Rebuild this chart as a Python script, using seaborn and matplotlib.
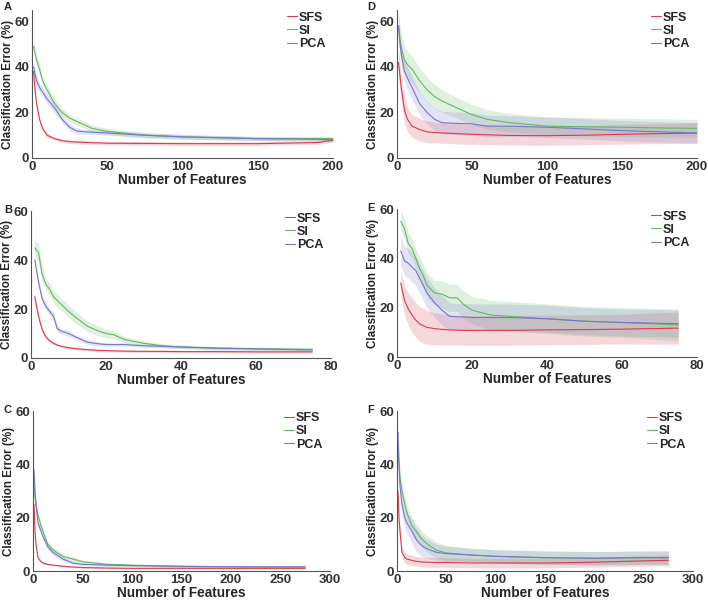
import pandas as pd
import matplotlib.pyplot as plt
from matplotlib.lines import Line2D
import seaborn as sns

# methods and colours
methods = ["SFS", "SI", "PCA"]
colors = {"SFS": "#d83c4a", "SI": "#62b862", "PCA": "#7676cc"}

# Panel A
a_x = [1, 2, 3, 5, 7, 10, 15, 20, 25, 30, 40, 50, 75, 100, 150, 190, 200]
a_sfs = [38, 30, 24, 17, 13, 10, 8.5, 7.6, 7.2, 7, 6.7, 6.5, 6.4, 6.3, 6.3, 6.8, 7.8]
a_sfs_sd = [1.5, 1.5, 1.3, 1.2, 1, 1, 0.8, 0.8, 0.8, 0.8, 0.8, 0.8, 0.8, 0.8, 0.8, 0.8, 0.8]
a_si = [49, 46, 43, 39, 34, 30, 24, 20, 17.5, 16, 13, 11.7, 10, 9.3, 8.5, 8.5, 8.5]
a_si_sd = [3, 3, 2.5, 2.5, 2, 2, 2, 1.8, 1.6, 1.5, 1.5, 1.3, 1.2, 1, 1, 1, 1]
a_pca = [40, 37, 34, 31, 29, 26, 22, 17, 13.5, 11.8, 11.3, 11, 10, 9.3, 8.5, 8.2, 8]
a_pca_sd = [3, 3, 2.5, 2, 2, 2, 2, 1.5, 1.5, 1.2, 1, 1, 1, 1, 0.8, 0.8, 0.8]

# Panel B
b_x = [1, 2, 3, 4, 5, 6, 7, 8, 10, 12, 15, 18, 20, 22, 25, 30, 35, 40, 50, 60, 75]
b_sfs = [25, 17, 11.5, 8.5, 7, 6, 5.3, 4.8, 4.2, 3.8, 3.4, 3.1, 3, 2.9, 2.8, 2.7, 2.7, 2.6, 2.6, 2.5, 2.5]
b_sfs_sd = [1.5, 1.2, 1, 0.8, 0.7, 0.6, 0.6, 0.5, 0.5, 0.5, 0.5, 0.5, 0.5, 0.5, 0.5, 0.5, 0.5, 0.5, 0.5, 0.5, 0.5]
b_si = [45, 43, 34, 30, 28, 25, 23.5, 22, 19, 16.5, 13, 11, 10, 9.5, 7.5, 6, 5, 4.5, 4, 3.8, 3.5]
b_si_sd = [3, 4, 3, 2.5, 2.5, 2.5, 2.5, 2.5, 2.5, 2.5, 2.2, 2, 1.8, 1.5, 1.3, 1, 0.8, 0.8, 0.7, 0.7, 0.7]
b_pca = [40, 31, 24, 21, 19, 17, 12, 11, 10, 8.5, 6.5, 5.8, 5.5, 5.5, 5.5, 5, 4.8, 4.5, 4, 3.7, 3.3]
b_pca_sd = [1.5, 1.5, 1.5, 1.5, 1.5, 1.5, 1.3, 1.2, 1.2, 1, 1, 0.8, 0.8, 0.7, 0.7, 0.6, 0.6, 0.5, 0.5, 0.5, 0.5]

# Panel C
c_x = [1, 2, 3, 5, 8, 10, 15, 20, 30, 40, 50, 75, 100, 150, 200, 250, 275]
c_sfs = [25, 15, 10, 5, 3.5, 3, 2.5, 2.2, 1.8, 1.5, 1.3, 1.1, 1, 1, 1, 1, 1]
c_sfs_sd = [0.6, 0.5, 0.5, 0.4, 0.4, 0.4, 0.4, 0.3, 0.3, 0.3, 0.3, 0.3, 0.3, 0.3, 0.3, 0.3, 0.3]
c_si = [33, 28, 25, 21, 17, 15, 10, 8, 5.5, 4.5, 3.5, 2.5, 2.2, 1.8, 1.6, 1.5, 1.5]
c_si_sd = [1.5, 1.5, 1.3, 1.2, 1.2, 1.2, 1, 1, 0.8, 0.8, 0.6, 0.5, 0.4, 0.4, 0.4, 0.4, 0.4]
c_pca = [38, 30, 25, 18, 15, 13, 9, 7, 4.5, 3, 2.5, 2.2, 2, 1.7, 1.6, 1.5, 1.5]
c_pca_sd = [1.5, 1.5, 1.3, 1.2, 1.2, 1.2, 1, 1, 0.8, 0.6, 0.5, 0.5, 0.4, 0.4, 0.4, 0.4, 0.4]

# Panel D
d_x = [1, 2, 3, 5, 7, 10, 15, 20, 25, 30, 40, 50, 60, 75, 100, 125, 150, 175, 200]
d_sfs = [42, 36, 30, 21, 17, 14, 12.5, 11.5, 11.2, 11, 10.7, 10.4, 10.2, 9.9, 9.8, 10, 10.4, 10.7, 11]
d_sfs_sd = [6, 6, 6, 6, 5.5, 5, 5, 4.8, 4.6, 4.5, 4.5, 4.4, 4.3, 4.2, 4.2, 4.2, 4.3, 4.4, 4.5]
d_si = [58, 52, 48, 43, 41, 39, 34, 30, 27, 25, 22, 19, 17, 15.5, 14, 13.7, 13.5, 13.2, 13]
d_si_sd = [6, 6, 6, 6, 6, 6, 5.5, 5.5, 5.2, 5, 4.5, 4.5, 4.2, 4, 4, 4, 4, 4, 4]
d_pca = [58, 50, 45, 38, 35, 31, 24, 20, 17, 15.5, 15.2, 15, 14, 14, 13.5, 12.8, 12, 11.5, 11]
d_pca_sd = [5, 5, 5, 5, 5, 5, 5, 5, 5, 5, 5, 5, 4.8, 4.6, 4.5, 4.5, 4.5, 4.5, 4.5]

# Panel E
e_x = [1, 2, 3, 4, 5, 6, 7, 8, 10, 12, 14, 16, 18, 20, 25, 30, 40, 50, 60, 75]
e_sfs = [30, 23, 19.5, 17, 15, 13.5, 12.7, 12, 11.5, 11.2, 11, 10.9, 10.8, 10.8, 10.8, 10.8, 11, 11.1, 11.3, 11.7]
e_sfs_sd = [5, 6, 6.5, 7, 7, 7, 7, 6.8, 6.5, 6.3, 6.2, 6, 6, 6, 6, 6, 6, 6, 6, 6.5]
e_si = [55, 52, 46, 44, 40, 36, 33, 29, 26, 25.5, 24, 24, 21, 19, 17, 16.5, 15.5, 14.5, 14, 13]
e_si_sd = [4, 4, 4, 4, 4, 4.5, 5, 5, 5, 5.5, 5.5, 5.5, 5.5, 5.5, 6, 6, 6, 6, 6, 6.5]
e_pca = [43, 39, 38, 36.5, 35, 32, 29, 26, 22, 19, 16.5, 16.3, 16.2, 16, 16, 16, 15.5, 14.5, 14, 13.5]
e_pca_sd = [6, 6, 6, 6, 6, 6, 6, 6, 6, 6, 5.5, 5.5, 5.5, 5.5, 5.5, 5.5, 5.5, 5.5, 5.5, 5.5]

# Panel F
f_x = [1, 2, 3, 5, 8, 10, 15, 20, 25, 30, 40, 50, 75, 100, 150, 200, 250, 275]
f_sfs = [30, 20, 15, 7, 5, 4.5, 4, 3.6, 3.4, 3.3, 3.2, 3.2, 3, 3, 3, 3.3, 3.8, 4]
f_sfs_sd = [2, 2, 2, 2, 2, 2, 2, 1.8, 1.8, 1.8, 1.8, 1.8, 1.8, 1.8, 1.8, 1.8, 2, 2]
f_si = [45, 40, 35, 30, 25, 22, 17, 14.6, 12, 10.3, 7.8, 6.8, 6, 5.5, 5, 4.8, 5, 5]
f_si_sd = [3, 3, 3, 3, 3, 3, 3, 3, 3, 3, 3, 2.8, 2.5, 2.5, 2.5, 2.5, 2.5, 2.5]
f_pca = [52, 40, 32, 25, 20, 18, 15, 11.5, 9.5, 8.4, 7, 6.5, 6, 5.5, 5, 4.8, 5, 5]
f_pca_sd = [4, 4, 4, 4, 4, 4, 4.5, 4.5, 4, 3.5, 3, 2.8, 2.5, 2.5, 2.5, 2.5, 2.5, 2.5]

panels = [
    ("A", a_x, [a_sfs, a_si, a_pca], [a_sfs_sd, a_si_sd, a_pca_sd], 200, 50, 65,
     [32, 10, 301, 148]),
    ("B", b_x, [b_sfs, b_si, b_pca], [b_sfs_sd, b_si_sd, b_pca_sd], 80, 20, 60,
     [31, 211, 300, 147]),
    ("C", c_x, [c_sfs, c_si, c_pca], [c_sfs_sd, c_si_sd, c_pca_sd], 300, 50, 60,
     [33, 411, 297, 160]),
    ("D", d_x, [d_sfs, d_si, d_pca], [d_sfs_sd, d_si_sd, d_pca_sd], 200, 50, 65,
     [397, 10, 300, 148]),
    ("E", e_x, [e_sfs, e_si, e_pca], [e_sfs_sd, e_si_sd, e_pca_sd], 80, 20, 60,
     [397, 209, 300, 148]),
    ("F", f_x, [f_sfs, f_si, f_pca], [f_sfs_sd, f_si_sd, f_pca_sd], 300, 50, 60,
     [397, 411, 296, 160]),
]

sns.set_style("white")
plt.rcParams["font.family"] = ["Liberation Sans", "DejaVu Sans"]
plt.rcParams["font.weight"] = "bold"

W, H = 708, 608
fig = plt.figure(figsize=(W / 100, H / 100), dpi=100)

for letter, xs, means, sds, xmax, xstep, ymax, box in panels:
    left, top, w, h = box
    ax = fig.add_axes([left / W, (H - top - h) / H, w / W, h / H])

    rows = []
    for m, vals in zip(methods, means):
        for x, v in zip(xs, vals):
            rows.append({"features": x, "error": v, "method": m})
    df = pd.DataFrame(rows)

    for m, vals, sd in zip(methods, means, sds):
        lo = [v - s for v, s in zip(vals, sd)]
        hi = [v + s for v, s in zip(vals, sd)]
        ax.fill_between(xs, lo, hi, color=colors[m], alpha=0.2, linewidth=0)

    sns.lineplot(data=df, x="features", y="error", hue="method", palette=colors,
                 hue_order=methods, errorbar=None, linewidth=0.8, ax=ax,
                 legend=False)

    ax.set_xlim(0, xmax)
    ax.set_ylim(0, ymax)
    ax.set_xticks(range(0, xmax + 1, xstep))
    ax.set_yticks([0, 20, 40, 60])
    ax.set_xlabel("Number of Features", fontsize=9.8, fontweight="bold", labelpad=0)
    ax.set_ylabel("Classification Error (%)", fontsize=8.4, fontweight="bold", labelpad=0)
    ax.tick_params(direction="in", length=3, width=0.8, labelsize=9.5,
                   colors="#333333", pad=2)
    for lab in ax.get_xticklabels() + ax.get_yticklabels():
        lab.set_fontweight("bold")
    for side in ["top", "right"]:
        ax.spines[side].set_visible(False)
    for side in ["left", "bottom"]:
        ax.spines[side].set_color("#555555")
        ax.spines[side].set_linewidth(0.8)

    handles = [Line2D([], [], color=colors[m], linewidth=0.8) for m in methods]
    leg = ax.legend(handles, methods, frameon=False, loc="upper right",
                    bbox_to_anchor=(1.0, 1.04), fontsize=9, handlelength=0.8,
                    handletextpad=0.2, labelspacing=0.1, borderaxespad=0.2)
    for t in leg.get_texts():
        t.set_fontweight("bold")

    lx = 4 if letter in "ABC" else 367
    ly = top - 6 if letter not in "AD" else 2
    fig.text(lx / W, 1 - ly / H, letter, fontsize=8, fontweight="bold",
             va="top", ha="left")

fig.savefig("out.png", dpi=100)
